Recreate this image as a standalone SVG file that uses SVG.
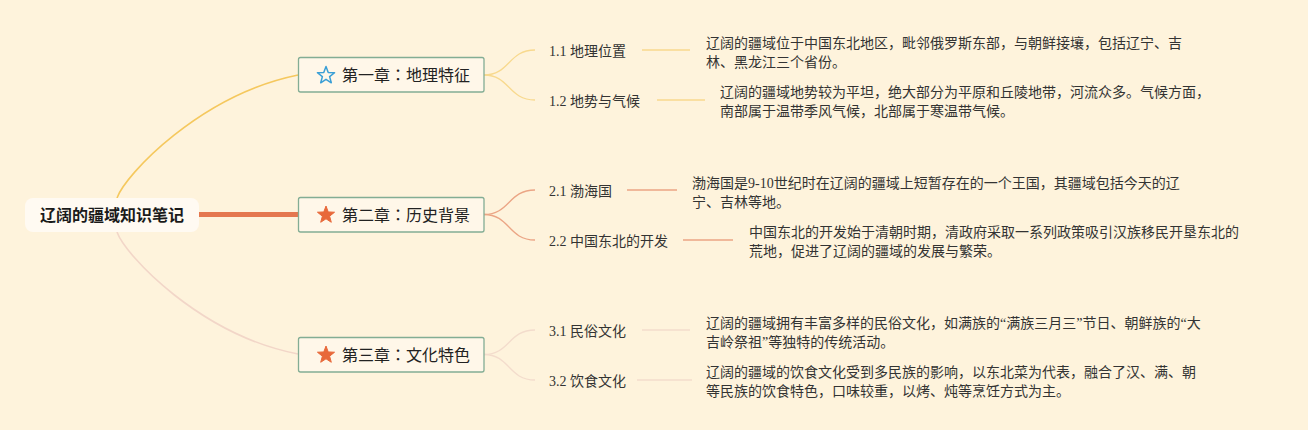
<svg xmlns="http://www.w3.org/2000/svg" width="1308" height="430" viewBox="0 0 1308 430">
<defs>
<style>
.bg{fill:#FEF3DC}
.root-box{fill:#FFFAF2}
.root-text{font-family:"Noto Sans CJK SC","Liberation Sans",sans-serif;font-size:16px;font-weight:bold;fill:#1a1a1a}
.ch-box{fill:#FFF7E9;stroke:#83AD94;stroke-width:1.3}
.ch-text{font-family:"Noto Sans CJK JP","Noto Sans CJK SC","Liberation Sans",sans-serif;font-size:16px;fill:#222}
.sub-text{font-family:"Liberation Serif","Noto Sans CJK SC",serif;font-size:14px;fill:#333}
.desc{font-family:"Liberation Serif","Noto Sans CJK SC",serif;font-size:14px;fill:#333}
.c1{fill:none;stroke:#F8D98E;stroke-width:1.3}
.c2{fill:none;stroke:#EBA585;stroke-width:1.3}
.c3{fill:none;stroke:#F3DCCC;stroke-width:1.3}
</style>
<polygon id="star" points="0,-9 2.23,-3.07 8.56,-2.78 3.61,1.17 5.29,7.28 0,3.8 -5.29,7.28 -3.61,1.17 -8.56,-2.78 -2.23,-3.07"/>
</defs>
<rect class="bg" x="0" y="0" width="1308" height="430"/>
<g id="connectors">
<path d="M117,198 C125,175 200,95 298,75" fill="none" stroke="#F5C85E" stroke-width="1.6"/>
<path d="M199,214.5 L298,214.5" fill="none" stroke="#E4774F" stroke-width="5"/>
<path d="M117,232 C125,255 200,335 298,354" fill="none" stroke="#F2D6C8" stroke-width="1.6"/>
<path class="c1" d="M484,75 C510,75 508,50 535,50"/>
<path class="c1" d="M484,75 C510,75 508,100 535,100"/>
<path class="c1" d="M642,50 L690,50"/>
<path class="c1" d="M657,100 L705,100"/>
<path class="c2" d="M484,214.5 C510,214.5 508,190 535,190"/>
<path class="c2" d="M484,214.5 C510,214.5 508,240 535,240"/>
<path class="c2" d="M627,190 L677,190"/>
<path class="c2" d="M683,240 L733,240"/>
<path class="c3" d="M484,354.5 C510,354.5 508,330 535,330"/>
<path class="c3" d="M484,354.5 C510,354.5 508,380 535,380"/>
<path class="c3" d="M642,330 L690,330"/>
<path class="c3" d="M637,380 L692,380"/>
</g>
<g id="root">
<rect class="root-box" x="25" y="198" width="174" height="34" rx="8"/>
<text class="root-text" x="112" y="220.5" text-anchor="middle">辽阔的疆域知识笔记</text>
</g>
<g id="ch1">
<rect class="ch-box" x="298.5" y="57.5" width="185.5" height="34.5" rx="2"/>
<use href="#star" x="326" y="75.5" fill="none" stroke="#3A9FD6" stroke-width="1.5" stroke-linejoin="round"/>
<text class="ch-text" x="342" y="81">第一章：地理特征</text>
</g>
<g id="ch2">
<rect class="ch-box" x="298.5" y="197.5" width="185.5" height="34.5" rx="2"/>
<use href="#star" x="326" y="215" fill="#E8693A" stroke="#E8693A" stroke-width="1" stroke-linejoin="round"/>
<text class="ch-text" x="342" y="220.5">第二章：历史背景</text>
</g>
<g id="ch3">
<rect class="ch-box" x="298.5" y="337.5" width="185.5" height="34.5" rx="2"/>
<use href="#star" x="326" y="355" fill="#E8693A" stroke="#E8693A" stroke-width="1" stroke-linejoin="round"/>
<text class="ch-text" x="342" y="360.5">第三章：文化特色</text>
</g>
<g id="s11"><text class="sub-text" x="549" y="56">1.1 地理位置</text></g>
<g id="s12"><text class="sub-text" x="549" y="106">1.2 地势与气候</text></g>
<g id="s21"><text class="sub-text" x="549" y="196">2.1 渤海国</text></g>
<g id="s22"><text class="sub-text" x="549" y="246">2.2 中国东北的开发</text></g>
<g id="s31"><text class="sub-text" x="549" y="336">3.1 民俗文化</text></g>
<g id="s32"><text class="sub-text" x="549" y="386">3.2 饮食文化</text></g>
<g id="d11"><text class="desc"><tspan x="706" y="48">辽阔的疆域位于中国东北地区，毗邻俄罗斯东部，与朝鲜接壤，包括辽宁、吉</tspan><tspan x="706" y="67">林、黑龙江三个省份。</tspan></text></g>
<g id="d12"><text class="desc"><tspan x="720" y="97">辽阔的疆域地势较为平坦，绝大部分为平原和丘陵地带，河流众多。气候方面，</tspan><tspan x="720" y="116">南部属于温带季风气候，北部属于寒温带气候。</tspan></text></g>
<g id="d21"><text class="desc"><tspan x="692" y="188">渤海国是9-10世纪时在辽阔的疆域上短暂存在的一个王国，其疆域包括今天的辽</tspan><tspan x="692" y="207">宁、吉林等地。</tspan></text></g>
<g id="d22"><text class="desc"><tspan x="749" y="237">中国东北的开发始于清朝时期，清政府采取一系列政策吸引汉族移民开垦东北的</tspan><tspan x="749" y="256">荒地，促进了辽阔的疆域的发展与繁荣。</tspan></text></g>
<g id="d31"><text class="desc"><tspan x="706" y="328">辽阔的疆域拥有丰富多样的民俗文化，如满族的“满族三月三”节日、朝鲜族的“大</tspan><tspan x="706" y="347">吉岭祭祖”等独特的传统活动。</tspan></text></g>
<g id="d32"><text class="desc"><tspan x="706" y="377">辽阔的疆域的饮食文化受到多民族的影响，以东北菜为代表，融合了汉、满、朝</tspan><tspan x="706" y="396">等民族的饮食特色，口味较重，以烤、炖等烹饪方式为主。</tspan></text></g>
</svg>
